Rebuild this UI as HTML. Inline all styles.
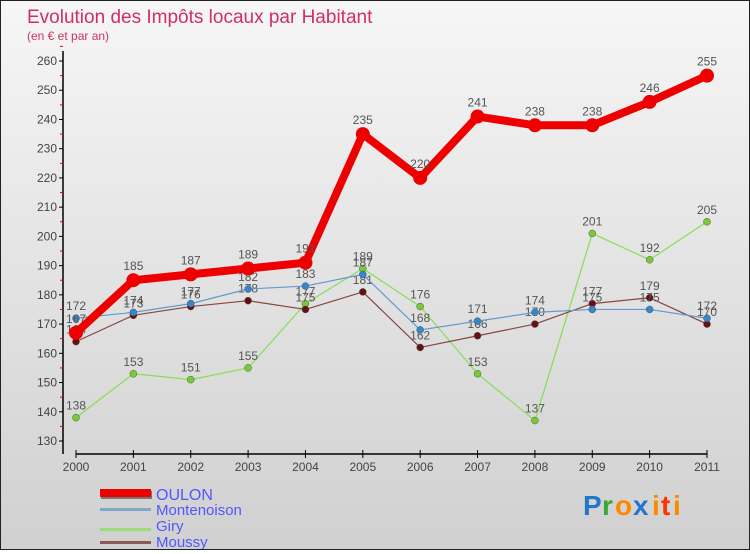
<!DOCTYPE html>
<html><head><meta charset="utf-8"><style>
body{margin:0;width:750px;height:550px;overflow:hidden;font-family:"Liberation Sans",sans-serif;}
#wrap{position:relative;width:748px;height:548px;border:1px solid #222;background:linear-gradient(#f6f6f6,#d0d0d0);}
</style></head><body>
<div id="wrap">
<svg id="chart" width="748" height="548" xmlns="http://www.w3.org/2000/svg">
<text x="26" y="22" font-size="19" fill="#d03060">Evolution des Impôts locaux par Habitant</text>
<text x="26" y="39" font-size="12" fill="#d03060">(en € et par an)</text>
<g id="axes"></g><g id="series"></g>
<g>
<rect x="100" y="490" width="51" height="8" fill="#777"/><rect x="99" y="488" width="51" height="8" fill="#e00"/>
<text x="155" y="499" font-size="16" fill="#55f">OULON</text>
<rect x="99" y="507" width="51" height="3" fill="#80a8c8"/>
<text x="155" y="514" font-size="15" fill="#55f">Montenoison</text>
<rect x="99" y="527" width="51" height="3" fill="#99dd77"/>
<text x="155" y="530" font-size="15" fill="#55f">Giry</text>
<rect x="99" y="540" width="51" height="3" fill="#8c5858"/>
<text x="155" y="546" font-size="15" fill="#55f">Moussy</text>
</g>
<g font-size="28" font-weight="bold">
<text x="582" y="514" fill="#2277cc">P</text><text x="601" y="514" fill="#33aa33">r</text><text x="614" y="514" fill="#ff8800">o</text><text x="632" y="514" fill="#2277cc">x</text><text x="651" y="514" fill="#ff8800">i</text><text x="660" y="514" fill="#ff3300">t</text><text x="672" y="514" fill="#ff8800">i</text>
</g>
</svg></div>
<script>
const years=["2000","2001","2002","2003","2004","2005","2006","2007","2008","2009","2010","2011"];
const oulon=[167,185,187,189,191,235,220,241,238,238,246,255];
const montenoison=[172,174,177,182,183,187,168,171,174,175,175,172];
const giry=[138,153,151,155,177,189,176,153,137,201,192,205];
const moussy=[164,173,176,178,175,181,162,166,170,177,179,170];
const yTicks=[130,140,150,160,170,180,190,200,210,220,230,240,250,260];
const NS="http://www.w3.org/2000/svg";
function X(i){return 75+i*(706-75)/(years.length-1);}
function Y(v){return 440-(v-130)*(380/130);}
function mk(t,a,p){const e=document.createElementNS(NS,t);for(const k in a)e.setAttribute(k,a[k]);p.appendChild(e);return e;}
const ax=document.getElementById('axes');
const yl=mk('line',{x1:62,y1:50,x2:62,y2:453,stroke:'#000','stroke-width':1.5},ax);


yTicks.forEach(v=>{
 mk('line',{x1:58,y1:Y(v),x2:62,y2:Y(v),stroke:'#000'},ax);
 mk('line',{x1:59,y1:Y(v+5),x2:62,y2:Y(v+5),stroke:'#e00'},ax);
 const t=mk('text',{x:56,y:Y(v)+4,'font-size':12,fill:'#444','text-anchor':'end'},ax);t.textContent=v;
 
 
});
const xl=mk('line',{x1:75,y1:453,x2:706,y2:453,stroke:'#000','stroke-width':1.5},ax);


years.forEach((y,i)=>{
 mk('line',{x1:X(i),y1:449,x2:X(i),y2:457,stroke:'#000'},ax);
 const t=mk('text',{x:X(i),y:470,'font-size':12,fill:'#444','text-anchor':'middle'},ax);t.textContent=y;
 
 
});
const sg=document.getElementById('series');
function draw(data,name,color,lw,r,dot){
 const g=mk('g',{},sg);
 
 
 mk('polyline',{points:data.map((v,i)=>X(i)+','+Y(v)).join(' '),fill:'none',stroke:color,'stroke-width':lw,'stroke-linejoin':'round'},g);
 data.forEach((v,i)=>{
  const c=mk('circle',{cx:X(i),cy:Y(v),r:r,fill:dot,stroke:'#555','stroke-width':r>5?0:0.5},g);
  
  
  const t=mk('text',{x:X(i),y:Y(v)-(r>5?10:8),'font-size':12,fill:'#555','text-anchor':'middle'},g);t.textContent=v;
  
  
 });
}
draw(giry,'giry','#88dd55',1.2,3.5,'#77cc33');
draw(moussy,'moussy','#884444',1.2,3.5,'#661111');
draw(montenoison,'montenoison','#6699cc',1.2,3.5,'#3388cc');
draw(oulon,'oulon','#ee0000',8,7,'#ee0000');
</script>
</body></html>
